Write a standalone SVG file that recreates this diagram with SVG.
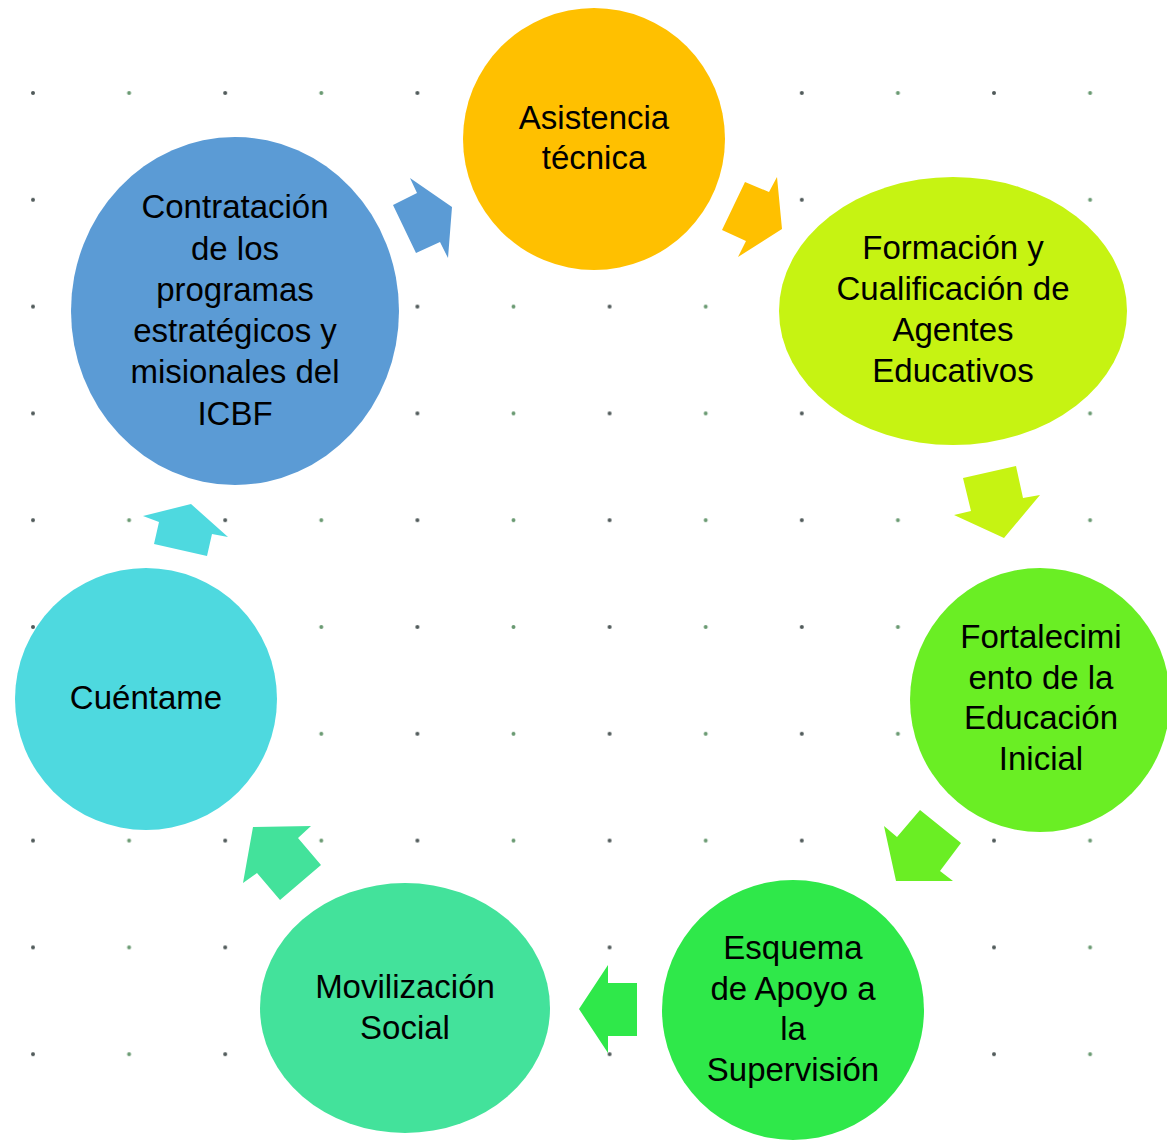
<svg xmlns="http://www.w3.org/2000/svg" width="1167" height="1140" viewBox="0 0 1167 1140">
<defs>
<style>
.t{font-family:"Liberation Sans",Arial,sans-serif;font-size:33px;fill:#000;text-anchor:middle}
.dd{fill:#505a5a}
.dg{fill:#6a9a72}
</style>
<pattern id="dots" x="0" y="0" width="192.2" height="106.8" patternUnits="userSpaceOnUse" patternTransform="translate(33 93)">
<circle cx="0" cy="0" r="2" class="dd"/>
<circle cx="96.1" cy="0" r="2" class="dg"/>
<circle cx="192.2" cy="0" r="2" class="dd"/>
<circle cx="0" cy="106.8" r="2" class="dd"/>
<circle cx="96.1" cy="106.8" r="2" class="dg"/>
<circle cx="192.2" cy="106.8" r="2" class="dd"/>
</pattern>
</defs>
<rect width="1167" height="1140" fill="#fff"/>
<rect x="28" y="88" width="1070" height="972" fill="url(#dots)"/>
<g id="connectors">
<polygon fill="#5B9BD5" points="410,178 417,193 393,205 416,253 440,242 448,258 452,207"/>
<polygon fill="#FFC000" points="745,182 769,192 777,177 782,229 738,257 746,241 722,230"/>
<polygon fill="#C6F312" points="963,478 1016,466 1023,498 1040,495 1004,538 954,515 971,511"/>
<polygon fill="#6AEE24" points="920,810 961,843 940,871 953,881 896,881 884,826 897,837"/>
<polygon fill="#2FE84A" points="608,965 608,983 637,983 637,1036 608,1036 608,1053 579,1009"/>
<polygon fill="#43E29B" points="253,827 311,826 298,838 321,865 280,900 257,873 243,883"/>
<polygon fill="#4ED9DF" points="143,516 191,504 228,537 212,534 207,556 154,544 159,522"/>
</g>
<g id="n-asistencia">
<ellipse cx="594" cy="139" rx="131" ry="131" fill="#FFC000"/>
<text class="t" x="594"><tspan x="594" y="129">Asistencia</tspan><tspan x="594" y="169">técnica</tspan></text>
</g>
<g id="n-formacion">
<ellipse cx="953" cy="311" rx="174" ry="134" fill="#C6F312"/>
<text class="t"><tspan x="953" y="259">Formación y</tspan><tspan x="953" y="300">Cualificación de</tspan><tspan x="953" y="341">Agentes</tspan><tspan x="953" y="382">Educativos</tspan></text>
</g>
<g id="n-fortalecimiento">
<ellipse cx="1040" cy="700" rx="130" ry="132" fill="#6AEE24"/>
<text class="t"><tspan x="1041" y="648">Fortalecimi</tspan><tspan x="1041" y="689">ento de la</tspan><tspan x="1041" y="729">Educación</tspan><tspan x="1041" y="770">Inicial</tspan></text>
</g>
<g id="n-esquema">
<ellipse cx="793" cy="1010" rx="131" ry="130" fill="#2FE84A"/>
<text class="t"><tspan x="793" y="959">Esquema</tspan><tspan x="793" y="1000">de Apoyo a</tspan><tspan x="793" y="1040">la</tspan><tspan x="793" y="1081">Supervisión</tspan></text>
</g>
<g id="n-movilizacion">
<ellipse cx="405" cy="1008" rx="145" ry="125" fill="#43E29B"/>
<text class="t"><tspan x="405" y="998">Movilización</tspan><tspan x="405" y="1039">Social</tspan></text>
</g>
<g id="n-cuentame">
<ellipse cx="146" cy="699" rx="131" ry="131" fill="#4ED9DF"/>
<text class="t" x="146" y="709">Cuéntame</text>
</g>
<g id="n-contratacion">
<ellipse cx="235" cy="311" rx="164" ry="174" fill="#5B9BD5"/>
<text class="t"><tspan x="235" y="218">Contratación</tspan><tspan x="235" y="260">de los</tspan><tspan x="235" y="301">programas</tspan><tspan x="235" y="342">estratégicos y</tspan><tspan x="235" y="383">misionales del</tspan><tspan x="235" y="425">ICBF</tspan></text>
</g>
</svg>
